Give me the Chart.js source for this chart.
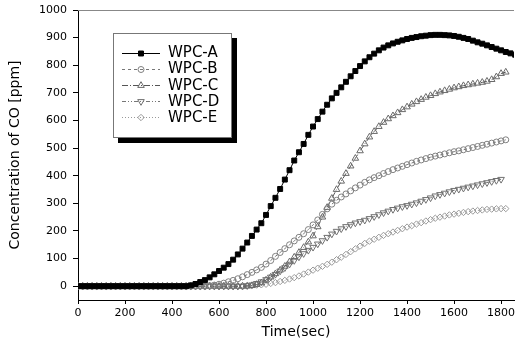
<!DOCTYPE html>
<html>
<head>
<meta charset="utf-8">
<script src="https://cdn.jsdelivr.net/npm/chart.js@4.4.1/dist/chart.umd.min.js"></script>
<style>
  html, body { margin: 0; padding: 0; background: #fff; }
  #wrap { width: 519px; height: 345px; }
</style>
</head>
<body>
<div id="wrap"><canvas id="chart" width="519" height="345"></canvas></div>
<script>
// --- Data ---
const times = [0, 20, 40, 60, 80, 100, 120, 140, 160, 180, 200, 220, 240, 260, 280, 300, 320, 340, 360, 380,
  400, 420, 440, 460, 480, 500, 520, 540, 560, 580, 600, 620, 640, 660, 680, 700, 720, 740, 760, 780,
  800, 820, 840, 860, 880, 900, 920, 940, 960, 980, 1000, 1020, 1040, 1060, 1080, 1100, 1120, 1140, 1160, 1180,
  1200, 1220, 1240, 1260, 1280, 1300, 1320, 1340, 1360, 1380, 1400, 1420, 1440, 1460, 1480, 1500, 1520, 1540, 1560, 1580,
  1600, 1620, 1640, 1660, 1680, 1700, 1720, 1740, 1760, 1780, 1800, 1820, 1840, 1860];

const xTicks = [0, 200, 400, 600, 800, 1000, 1200, 1400, 1600, 1800];
const yTicks = [0, 100, 200, 300, 400, 500, 600, 700, 800, 900, 1000];

const seriesNames = ['WPC-A', 'WPC-B', 'WPC-C', 'WPC-D', 'WPC-E'];

const wpcA = [0, 0, 0, 0, 0, 0, 0, 0, 0, 0, 0, 0, 0, 0, 0, 0, 0, 0, 0, 0, 0, 0, 0, 0,
  3, 8, 15, 22, 32, 43, 55, 67, 80, 96,
  115, 136, 158, 182, 205, 228, 258, 290, 320, 352,
  386, 420, 455, 485, 515, 548, 578, 605, 632, 657,
  680, 700, 720, 740, 760, 779, 797, 814, 829, 842,
  854, 864, 872, 879, 885, 890, 895, 899, 902, 905,
  907, 909, 910, 910, 909, 908, 906, 903, 899, 895,
  889, 883, 878, 872, 866, 860, 854, 848, 843, 838];

const wpcB = [0, 0, 0, 0, 0, 0, 0, 0, 0, 0, 0, 0, 0, 0, 0, 0, 0, 0, 0, 0, 0, 0, 0, 0, 0, 0, 0, 0,
  2, 4, 7, 11, 16, 21, 27, 34, 42, 50,
  59, 68, 80, 93, 108, 122, 136, 150, 164, 177,
  190, 205, 222, 240, 260, 280, 297, 311, 323, 334,
  345, 356, 366, 376, 385, 393, 400, 408, 415, 422,
  428, 434, 440, 446, 452, 457, 462, 467, 471, 475,
  479, 483, 487, 490, 494, 498, 502, 506, 510, 514,
  518, 522, 526, 530];

const wpcC = [0, 0, 0, 0, 0, 0, 0, 0, 0, 0, 0, 0, 0, 0, 0, 0, 0, 0, 0, 0, 0, 0, 0, 0, 0, 0, 0, 0, 0, 0,
  0, 0, 0, 0, 0, 0, 0,
  2, 6, 12, 22, 33, 45, 58, 72, 88, 105,
  122, 140, 160, 182, 215, 250, 285, 318, 350, 380,
  408, 435, 463, 490, 515, 540, 560, 578, 593, 606,
  617, 628, 639, 649, 659, 668, 676, 684, 690, 697,
  703, 708, 713, 718, 722, 726, 729, 732, 735, 738,
  742, 748, 758, 770, 775];

const wpcD = [0, 0, 0, 0, 0, 0, 0, 0, 0, 0, 0, 0, 0, 0, 0, 0, 0, 0, 0, 0, 0, 0, 0, 0, 0, 0, 0, 0, 0, 0,
  0, 0, 0, 0, 0, 0,
  2, 5, 10, 16, 24, 33, 43, 55, 67, 80,
  93, 106, 118, 130, 141, 153, 165, 177, 189, 199,
  208, 216, 223, 229, 234, 239, 245, 252, 259, 266,
  272, 278, 283, 288, 292, 297, 302, 308, 314, 320,
  327, 332, 337, 342, 347, 351, 355, 359, 363, 367,
  371, 375, 379, 383, 387];

const wpcE = [0, 0, 0, 0, 0, 0, 0, 0, 0, 0, 0, 0, 0, 0, 0, 0, 0, 0, 0, 0, 0, 0, 0, 0, 0, 0, 0, 0, 0, 0,
  0, 0, 0, 0, 0,
  1, 2, 3, 4, 5, 7, 10, 13, 17, 21,
  26, 31, 37, 44, 51, 58, 65, 72, 79, 87,
  96, 105, 115, 125, 135, 145, 155, 163, 170, 177,
  184, 190, 196, 202, 208, 214, 219, 225, 230, 236,
  241, 246, 250, 254, 258, 261, 264, 267, 270, 272,
  274, 276, 278, 279, 280, 281, 281];

const FONT = 'DejaVu Sans';

// --- Helpers ---
function toPoints(values) {
  return values.map((v, i) => ({ x: times[i], y: v }));
}

function makeSeries(name, values, style) {
  return Object.assign({
    label: name,
    data: toPoints(values),
    borderWidth: 1,
    pointBorderWidth: 1,
    tension: 0,
    fill: false
  }, style);
}

const datasets = [
  makeSeries(seriesNames[0], wpcA, {
    borderColor: '#000', pointStyle: 'rect', pointRadius: 3.5,
    pointBackgroundColor: '#000', pointBorderColor: '#000', borderDash: []
  }),
  makeSeries(seriesNames[1], wpcB, {
    borderColor: '#777', pointStyle: 'circle', pointRadius: 3,
    pointBackgroundColor: 'rgba(0,0,0,0)', pointBorderColor: '#808080', borderDash: [3, 3]
  }),
  makeSeries(seriesNames[2], wpcC, {
    borderColor: '#555', pointStyle: 'triangle', pointRadius: 3.8,
    pointBackgroundColor: 'rgba(0,0,0,0)', pointBorderColor: '#6a6a6a', borderDash: [6, 2, 1, 2]
  }),
  makeSeries(seriesNames[3], wpcD, {
    borderColor: '#777', pointStyle: 'triangle', pointRadius: 3.8, pointRotation: 180,
    pointBackgroundColor: 'rgba(0,0,0,0)', pointBorderColor: '#707070', borderDash: [4, 2, 1, 2, 1, 2]
  }),
  makeSeries(seriesNames[4], wpcE, {
    borderColor: '#999', pointStyle: 'rectRot', pointRadius: 3.2,
    pointBackgroundColor: 'rgba(0,0,0,0)', pointBorderColor: '#9a9a9a', borderDash: [1, 2]
  })
];

// --- Plugins: top frame line and boxed legend with shadow ---
const frameTop = {
  id: 'frameTop',
  afterDraw(chart) {
    const { ctx, chartArea } = chart;
    ctx.save();
    ctx.strokeStyle = '#888';
    ctx.lineWidth = 1;
    ctx.beginPath();
    ctx.moveTo(chartArea.left, chartArea.top + 0.5);
    ctx.lineTo(chartArea.right, chartArea.top + 0.5);
    ctx.stroke();
    ctx.restore();
  }
};

const boxLegend = {
  id: 'boxLegend',
  afterDraw(chart) {
    const ctx = chart.ctx;
    const bx = 113, by = 33, bw = 119, bh = 105;
    ctx.save();
    // shadow
    ctx.fillStyle = '#000';
    ctx.fillRect(bx + 5, by + 5, bw, bh);
    // box
    ctx.fillStyle = '#fff';
    ctx.fillRect(bx, by, bw, bh);
    ctx.strokeStyle = '#777';
    ctx.lineWidth = 1;
    ctx.strokeRect(bx + 0.5, by + 0.5, bw - 1, bh - 1);

    chart.data.datasets.forEach((ds, i) => {
      const y = 53 + i * 16.1;
      ctx.save();
      ctx.strokeStyle = ds.borderColor;
      ctx.lineWidth = 1;
      ctx.setLineDash(ds.borderDash || []);
      ctx.beginPath();
      ctx.moveTo(122, Math.round(y) + 0.5);
      ctx.lineTo(160, Math.round(y) + 0.5);
      ctx.stroke();
      ctx.restore();

      ctx.save();
      ctx.strokeStyle = ds.pointBorderColor;
      ctx.fillStyle = ds.pointBackgroundColor;
      Chart.helpers.drawPoint(ctx, {
        pointStyle: ds.pointStyle,
        radius: ds.pointRadius,
        rotation: ds.pointRotation || 0,
        borderWidth: 1
      }, 141, Math.round(y) + 0.5);
      ctx.restore();

      ctx.fillStyle = '#000';
      ctx.font = '15px "' + FONT + '"';
      ctx.textBaseline = 'middle';
      ctx.textAlign = 'left';
      ctx.fillText(ds.label, 168, y + 0.5);
    });
    ctx.restore();
  }
};

// --- Chart ---
const ctx = document.getElementById('chart').getContext('2d');
new Chart(ctx, {
  type: 'line',
  data: { datasets: datasets },
  options: {
    responsive: false,
    animation: false,
    devicePixelRatio: 1,
    layout: { padding: { top: 10, right: 0, bottom: 0, left: 0 } },
    plugins: {
      legend: { display: false },
      tooltip: { enabled: false }
    },
    scales: {
      x: {
        type: 'linear',
        min: 0,
        max: 1855,
        afterBuildTicks: s => { s.ticks = xTicks.map(v => ({ value: v })); },
        afterFit: s => { s.height = 45; s.paddingLeft = 0; s.paddingRight = 0; },
        grid: { drawOnChartArea: false, drawTicks: true, tickLength: 4, color: '#000' },
        border: { color: '#000', width: 1 },
        ticks: {
          color: '#000', padding: 3, maxRotation: 0, autoSkip: false,
          callback: v => String(v),
          font: { family: FONT, size: 11 }
        },
        title: {
          display: true, text: 'Time(sec)', color: '#000',
          font: { family: FONT, size: 14 }, padding: { top: 0, bottom: 4 }
        }
      },
      y: {
        min: -50,
        max: 1000,
        afterBuildTicks: s => { s.ticks = yTicks.map(v => ({ value: v })); },
        afterFit: s => { s.width = 78; s.paddingTop = 0; s.paddingBottom = 0; },
        grid: { drawOnChartArea: false, drawTicks: true, tickLength: 5, color: '#000' },
        border: { color: '#000', width: 1 },
        ticks: {
          color: '#000', padding: 6,
          callback: v => String(v),
          font: { family: FONT, size: 11 }
        },
        title: {
          display: true, text: 'Concentration of CO [ppm]', color: '#000',
          font: { family: FONT, size: 14 }, padding: { top: 7, bottom: 0 }
        }
      }
    }
  },
  plugins: [frameTop, boxLegend]
});
</script>
</body>
</html>
